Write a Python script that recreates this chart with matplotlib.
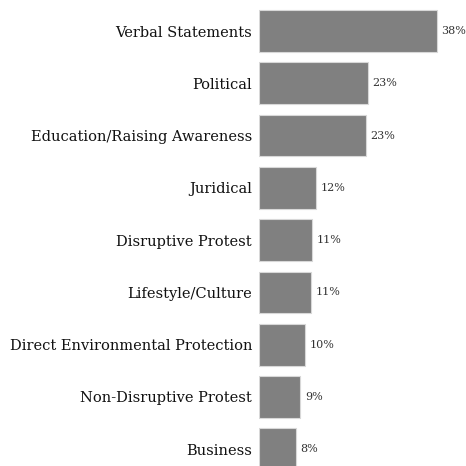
import numpy as np
import matplotlib.pyplot as plt

# share of actions by type (%)
categories = ["Verbal Statements", "Political", "Education/Raising Awareness",
              "Juridical", "Disruptive Protest", "Lifestyle/Culture",
              "Direct Environmental Protection", "Non-Disruptive Protest", "Business"]
shares = [38.0, 23.3, 22.8, 12.1, 11.4, 11.1, 9.9, 8.8, 7.8]

plt.rcParams['font.family'] = 'DejaVu Serif'

fig = plt.figure(figsize=(4.66, 4.66), dpi=100)
ax = fig.add_axes([259 / 466, 0, 1 - 259 / 466, 1])

y = np.arange(len(categories))
bars = ax.barh(y, shares, height=0.8, color='#808080', edgecolor='#d8d8d8', linewidth=0.8)

for b, v in zip(bars, shares):
    ax.text(b.get_width() + 1.0, b.get_y() + b.get_height() / 2, f"{v:.0f}%",
            va='center', ha='left', fontsize=8, color='#333333')

ax.set_yticks(y)
ax.set_yticklabels(categories, fontsize=10.5, color='#111111')
ax.tick_params(axis='y', length=0, pad=5)
ax.set_xticks([])
ax.set_xlim(0, 207 / 4.68)
ax.set_ylim(8.32, -0.593)
for s in ax.spines.values():
    s.set_visible(False)

fig.savefig("out.png", dpi=100)
